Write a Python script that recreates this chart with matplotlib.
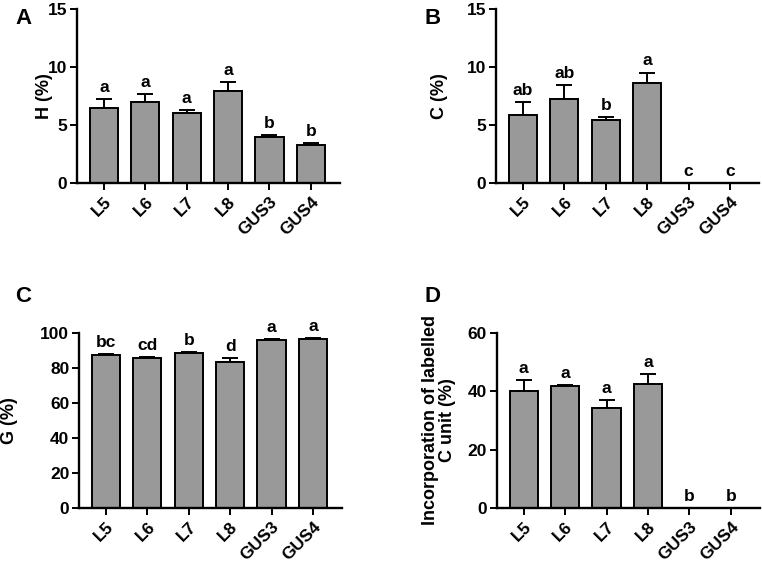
import numpy as np
import matplotlib
matplotlib.use("Agg")
import matplotlib.pyplot as plt

plt.rcParams['font.family'] = ['Liberation Sans', 'DejaVu Sans']
plt.rcParams['font.weight'] = 'bold'

lines = ["L5", "L6", "L7", "L8", "GUS3", "GUS4"]

# panel A: H (%)
h_mean = [6.5, 7.0, 6.0, 7.9, 3.97, 3.3]
h_err = [0.75, 0.7, 0.28, 0.8, 0.15, 0.15]
h_letters = ["a", "a", "a", "a", "b", "b"]

# panel B: C (%)
c_mean = [5.9, 7.28, 5.4, 8.6, 0.0, 0.0]
c_err = [1.05, 1.2, 0.3, 0.92, 0.0, 0.0]
c_letters = ["ab", "ab", "b", "a", "c", "c"]

# panel C: G (%)
g_mean = [87.3, 85.4, 88.6, 83.3, 95.8, 96.4]
g_err = [0.5, 0.6, 0.5, 2.0, 0.4, 0.4]
g_letters = ["bc", "cd", "b", "d", "a", "a"]

# panel D: incorporation of labelled C unit (%)
inc_mean = [40.1, 41.8, 34.2, 42.4, 0.0, 0.0]
inc_err = [3.6, 0.2, 2.8, 3.5, 0.0, 0.0]
inc_letters = ["a", "a", "a", "a", "b", "b"]


def DrawPanel(ax, means, errs, letters, ylim, yticks, ylabel, labelx):
    x = np.arange(len(lines))
    ax.bar(x, means, width=0.68, color="#999999", edgecolor="black", linewidth=1.4, zorder=2)
    ax.errorbar(x, means, yerr=[np.zeros(len(errs)), errs], fmt="none", ecolor="black",
                elinewidth=1.4, capsize=5.5, capthick=1.4, zorder=1)
    for i in range(len(x)):
        ax.annotate(letters[i], (x[i], means[i] + errs[i]), xytext=(0, 3),
                    textcoords="offset points", ha="center", va="bottom",
                    fontsize=12.5, fontweight="bold")
    ax.set_xlim(-0.65, 5.7)
    ax.set_ylim(*ylim)
    ax.set_yticks(yticks)
    ax.set_xticks(x)
    ax.set_xticklabels(lines, rotation=45, ha="right", rotation_mode="anchor",
                       fontsize=12.5, fontweight="bold")
    ax.tick_params(axis="y", labelsize=12.5, width=1.4, length=5, pad=2)
    ax.tick_params(axis="x", width=1.4, length=5, pad=3)
    for t in ax.get_yticklabels():
        t.set_fontweight("bold")
    ax.spines["top"].set_visible(False)
    ax.spines["right"].set_visible(False)
    ax.spines["left"].set_linewidth(1.7)
    ax.spines["bottom"].set_linewidth(1.7)
    ax.set_ylabel(ylabel, fontsize=13, fontweight="bold", linespacing=1.0)
    ax.yaxis.set_label_coords(labelx, 0.5)


fig = plt.figure(figsize=(7.62, 5.65), dpi=100)

axA = fig.add_axes([0.101, 0.676, 0.345, 0.308])
DrawPanel(axA, h_mean, h_err, h_letters, (0, 15), [0, 5, 10, 15], "H (%)", -0.091)

axB = fig.add_axes([0.651, 0.676, 0.345, 0.308])
DrawPanel(axB, c_mean, c_err, c_letters, (0, 15), [0, 5, 10, 15], "C (%)", -0.183)

axC = fig.add_axes([0.1037, 0.1004, 0.345, 0.311])
DrawPanel(axC, g_mean, g_err, g_letters, (0, 100), [0, 20, 40, 60, 80, 100], "G (%)", -0.232)

axD = fig.add_axes([0.652, 0.1004, 0.345, 0.311])
DrawPanel(axD, inc_mean, inc_err, inc_letters, (0, 60), [0, 20, 40, 60],
          "Incorporation of labelled\nC unit (%)", -0.156)

for lab, px, py in [("A", 15, 18), ("B", 424, 18), ("C", 15, 296), ("D", 424, 296)]:
    fig.text(px / 762, 1 - py / 565, lab, fontsize=16, fontweight="bold", va="center", ha="left")

fig.savefig("out.png", dpi=100)
